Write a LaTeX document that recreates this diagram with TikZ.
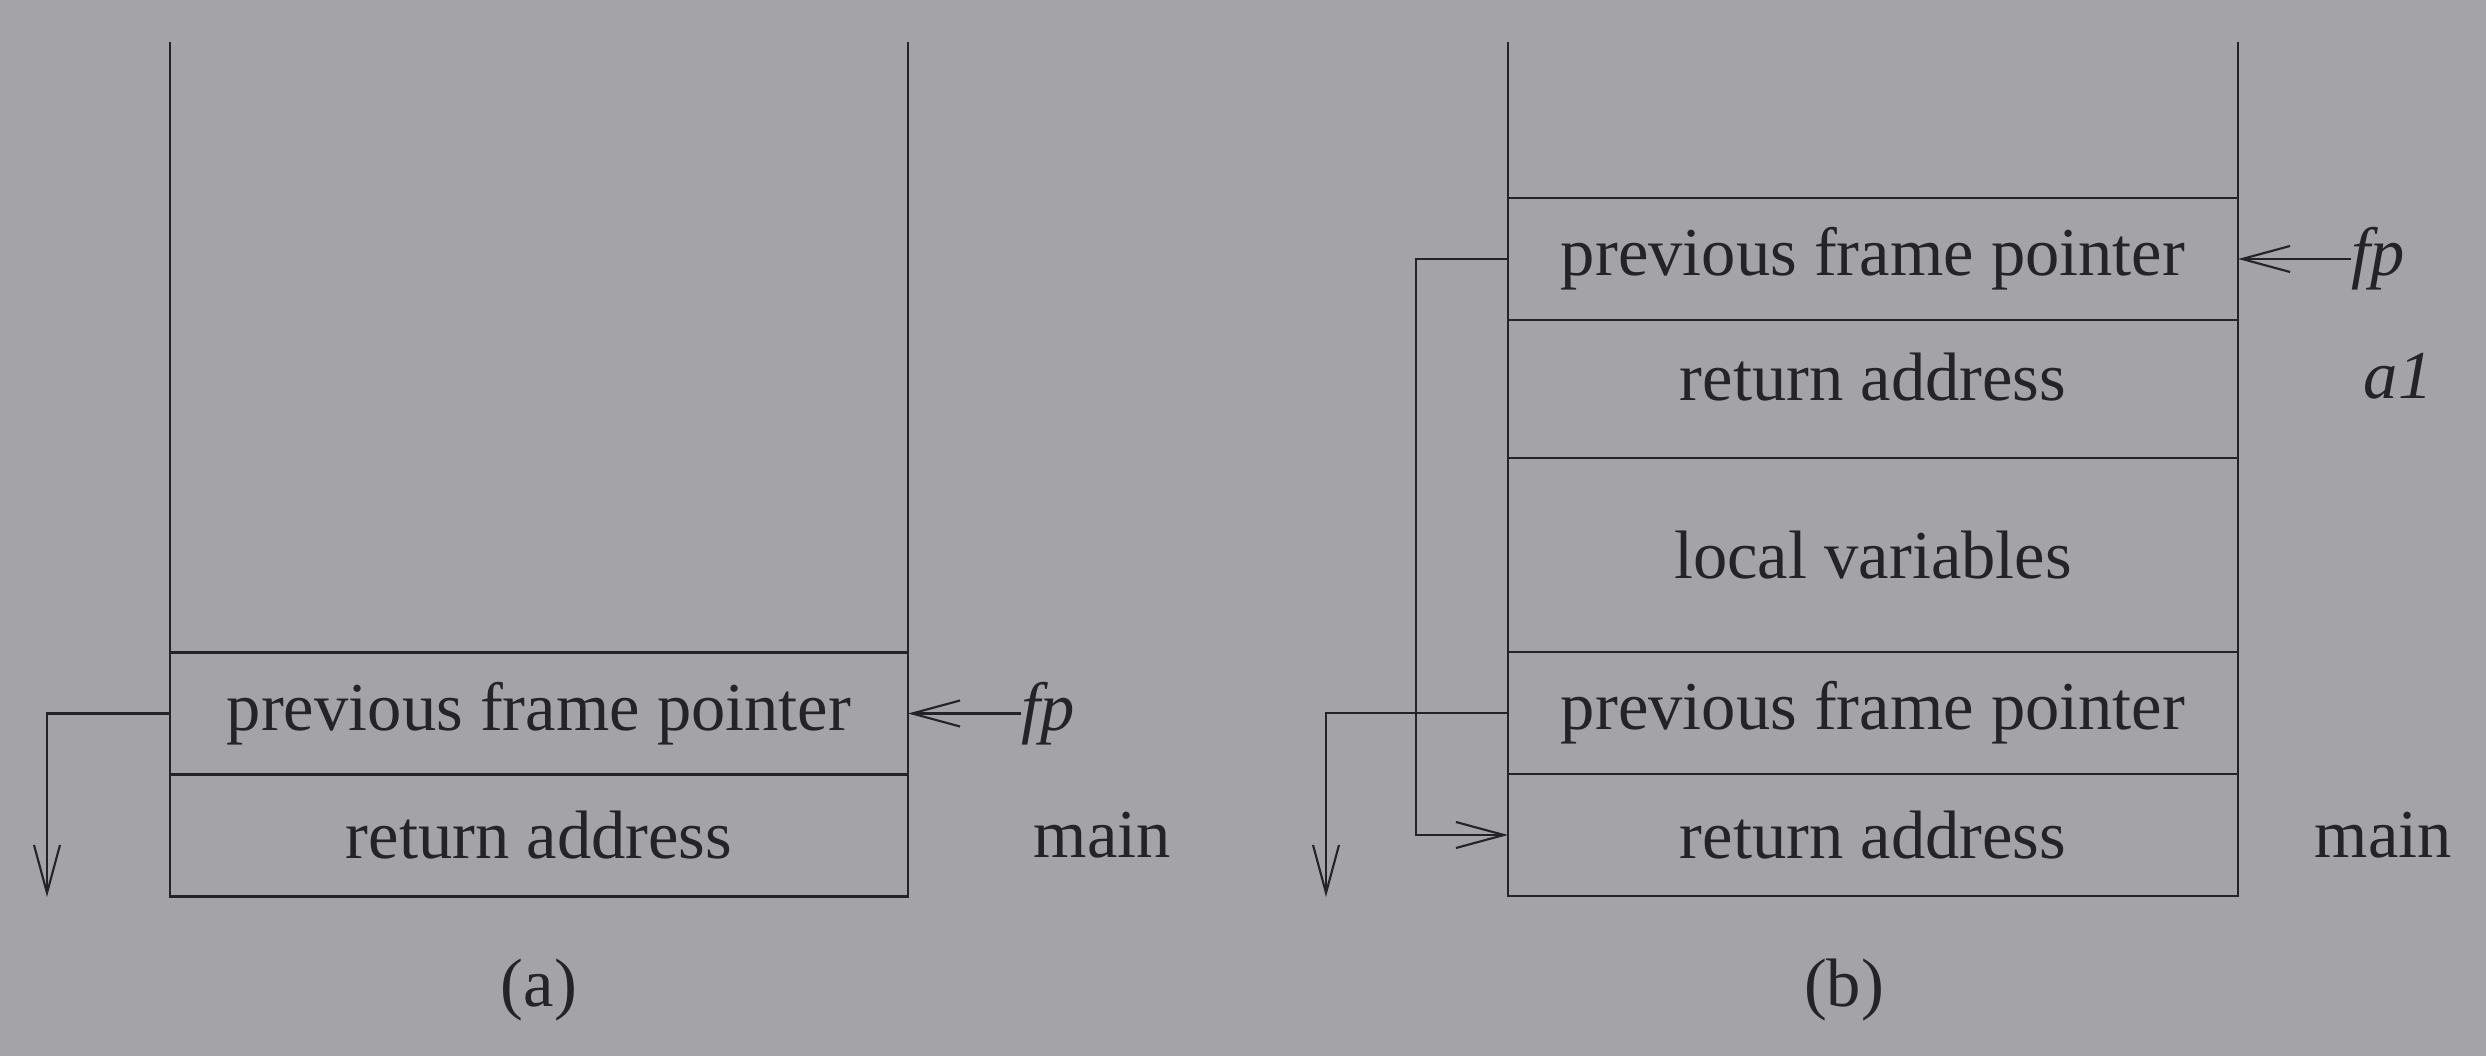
\documentclass[tikz,border=0pt]{standalone}
\usepackage{fontspec}
\setmainfont{Liberation Serif}
\usetikzlibrary{arrows.meta,positioning}
\definecolor{paper}{RGB}{163,163,168}
\definecolor{ink}{RGB}{36,36,40}

\begin{document}
\begin{tikzpicture} [{cell/.style={rectangle,draw=ink,line width=0.6pt,text=ink,inner sep=0pt,outer sep=0pt,minimum width=#1,minimum height=1.22cm,font=\fontsize{19.5}{23}\selectfont}},cell/.default=7.30cm,{lab/.style={inner sep=0pt,text=ink,font=\fontsize{19.5}{23}\selectfont}},{link/.style={draw=ink,line width=0.6pt}},{tip/.style={-{Straight Barb[length=4.8mm,width=2.6mm]}}}]
		%%paper
		\fill [paper] (0,0) rectangle (24.86,10.56);
		\coordinate (top) at (0,10.14);
		%%stack (a)
		\node at (5.39,3.425) [cell=7.38cm] (pfpA) {previous frame pointer};
		\node [cell=7.38cm, below=0pt of pfpA] (raA) {return address};
		\draw [link] (pfpA.north west) -- (pfpA.north west |- top);
		\draw [link] (pfpA.north east) -- (pfpA.north east |- top);
		\node [lab, right=1.13cm of pfpA] (fpA) {\textit{fp}};
		\node [lab, right=1.25cm of raA] (mainA) {main};
		\draw [link,tip] (fpA.west) -- (pfpA.east);
		\coordinate (downA) at (0.47,1.59);
		\draw [link,tip] (pfpA.west) -| (downA);
		\node at (5.39,0.66) [lab] (capA) {(a)};
		%%stack (b)
		\node at (18.73,7.97) [cell] (pfpB) {previous frame pointer};
		\node [cell, below=0pt of pfpB, minimum height=1.38cm, text depth=2.4mm] (raB) {return address};
		\node [cell, below=0pt of raB, minimum height=1.94cm] (lvB) {local variables};
		\node [cell, below=0pt of lvB] (pfpC) {previous frame pointer};
		\node [cell, below=0pt of pfpC] (raC) {return address};
		\draw [link] (pfpB.north west) -- (pfpB.north west |- top);
		\draw [link] (pfpB.north east) -- (pfpB.north east |- top);
		\node [lab, right=1.13cm of pfpB] (fpB) {\textit{fp}};
		\node [lab, right=1.25cm of raB, yshift=1.3mm] (alB) {\textit{a1}};
		\node [lab, right=0.76cm of raC] (mainC) {main};
		\draw [link,tip] (fpB.west) -- (pfpB.east);
		%%saved frame pointers
		\draw [link,tip] (pfpB.west) -- ++(-0.92,0) |- (raC.west);
		\coordinate (downB) at (13.26,1.59);
		\draw [link,tip] (pfpC.west) -| (downB);
		\node at (18.44,0.66) [lab] (capB) {(b)};
	\end{tikzpicture}
\end{document}
